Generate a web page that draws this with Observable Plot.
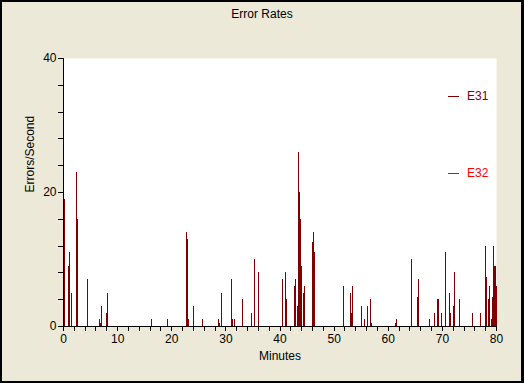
<!DOCTYPE html>
<html>
<head>
<meta charset="utf-8">
<script src="https://cdn.jsdelivr.net/npm/d3@7"></script>
<script src="https://cdn.jsdelivr.net/npm/@observablehq/plot@0.6"></script>
<style>
  html, body { margin: 0; padding: 0; background: #ECE9D8; }
  #wrap { position: relative; width: 524px; height: 383px; background: #ECE9D8; overflow: hidden;
          font-family: "Liberation Sans", Arial, sans-serif; font-size: 12px; color: #000; }
  #wrap svg { position: absolute; left: 0; top: 0; }
  #title { position: absolute; left: 0; top: 7px; width: 524px; text-align: center; line-height: 14px; }
  .lg-line { position: absolute; width: 11px; height: 1px; }
  .lg-text { position: absolute; line-height: 14px; }
  #border { position: absolute; left: 0; top: 0; width: 524px; height: 383px; box-sizing: border-box;
            border-style: solid; border-color: #000; border-width: 2px 3px 2px 2px; pointer-events: none; }
</style>
</head>
<body>
<div id="wrap">
  <div id="title"></div>
  <div id="border"></div>
</div>
<script>
const titleText = "Error Rates";
const xLabel = "Minutes";
const yLabel = "Errors/Second";
const seriesNames = ["E31", "E32"];
const seriesColors = ["#800000", "#ff0000"];
const xTickLabels = [0, 10, 20, 30, 40, 50, 60, 70, 80];
const yTickLabels = [0, 20, 40];

// E31 samples: minute and errors/second
const e31Minutes = [0.19, 0.98, 1.17, 1.54, 2.4, 2.59, 4.47, 6.71, 6.9, 7.08, 7.99, 8.17,
  16.3, 19.27, 22.81, 23.0, 23.18, 24.11, 25.6, 28.58, 28.77, 29.14, 31.0, 31.19, 31.56,
  33.1, 34.76, 35.34, 36.08, 40.52, 41.07, 41.26, 42.73, 42.92, 43.29, 43.47, 43.66, 43.84,
  44.03, 44.4, 44.58, 46.06, 46.24, 46.43, 51.79, 53.08, 53.27, 53.45, 55.11, 55.67, 56.22,
  56.78, 56.96, 61.39, 61.58, 64.35, 65.46, 65.64, 67.68, 68.6, 69.15, 69.34, 69.9, 70.63,
  71.37, 71.56, 72.11, 72.29, 73.22, 75.62, 77.1, 78.02, 78.21, 78.58, 78.77, 79.13, 79.32,
  79.5, 79.69, 79.87, 80.0];
const e31Values = [19, 9, 11, 5, 23, 16, 7, 1, 0.5, 3, 2, 5,
  1, 1, 14, 13, 1, 3, 1, 1, 0.5, 5, 7, 1, 1,
  4, 2, 10, 8, 7, 8, 4, 6, 7, 3, 26, 20, 16,
  9, 5, 6, 12.5, 14, 11, 6, 5, 2, 6, 3, 1, 3,
  4, 0.5, 0.5, 1, 10, 4.3, 7, 1, 2, 4, 4, 2, 11,
  5, 2, 3, 8, 4, 2, 2, 12, 7.3, 4, 6, 1, 4.3,
  12, 9, 9, 6];
// E32: no visible samples in the chart
const e32Minutes = [];
const e32Values = [];

const data = [
  ...e31Minutes.map((m, i) => ({minute: m, value: e31Values[i], series: seriesNames[0]})),
  ...e32Minutes.map((m, i) => ({minute: m, value: e32Values[i], series: seriesNames[1]}))
];

const chart = Plot.plot({
  width: 524,
  height: 383,
  marginLeft: 63,
  marginRight: 28,
  marginTop: 58,
  marginBottom: 57,
  style: {background: "transparent", fontFamily: "'Liberation Sans', Arial, sans-serif", fontSize: "12px", color: "#000", overflow: "visible"},
  x: {domain: [0, 80]},
  y: {domain: [0, 40]},
  color: {domain: seriesNames, range: seriesColors},
  marks: [
    Plot.frame({fill: "white", stroke: null}),
    Plot.ruleX(data, {x: "minute", y1: 0, y2: "value", stroke: "series", strokeWidth: 1, shapeRendering: "crispEdges"}),
    Plot.axisX({ticks: d3.range(0, 81, 2), tickFormat: d => xTickLabels.includes(d) ? String(d) : "", tickSize: 5, tickPadding: 3, label: null, stroke: "#000", fill: "#000", strokeOpacity: 1, shapeRendering: "crispEdges"}),
    Plot.axisY({ticks: d3.range(0, 41, 4), tickFormat: d => yTickLabels.includes(d) ? String(d) : "", tickSize: 5, tickPadding: 2, label: null, stroke: "#000", fill: "#000", strokeOpacity: 1, shapeRendering: "crispEdges"}),
    Plot.ruleX([0], {stroke: "#000", shapeRendering: "crispEdges"}),
    Plot.ruleY([0], {stroke: "#000", shapeRendering: "crispEdges"}),
    Plot.text([xLabel], {text: d => d, frameAnchor: "bottom", dy: 33, fill: "#000"}),
    Plot.text([yLabel], {text: d => d, frameAnchor: "left", dx: -33, rotate: -90, fill: "#000"})
  ]
});

const wrap = document.getElementById("wrap");
wrap.insertBefore(chart, wrap.firstChild);
document.getElementById("title").textContent = titleText;

seriesNames.forEach((name, i) => {
  const y = 96 + i * 77;
  const line = document.createElement("div");
  line.className = "lg-line";
  line.style.left = "448px";
  line.style.top = y + "px";
  line.style.background = seriesColors[i];
  const txt = document.createElement("div");
  txt.className = "lg-text";
  txt.style.left = "467px";
  txt.style.top = (y - 7) + "px";
  txt.style.color = seriesColors[i];
  txt.textContent = name;
  wrap.appendChild(line);
  wrap.appendChild(txt);
});
</script>
</body>
</html>
